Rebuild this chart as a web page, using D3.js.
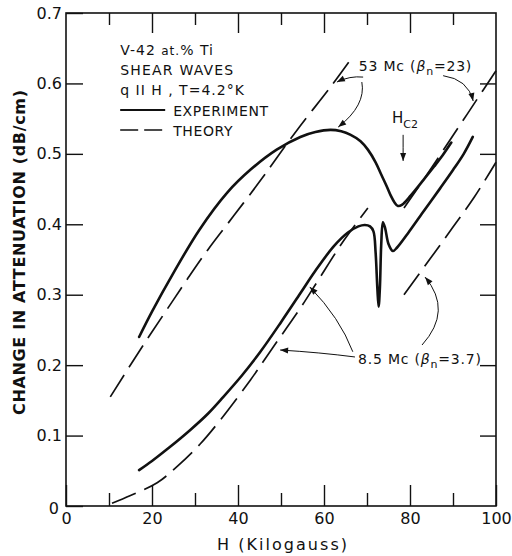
<!DOCTYPE html>
<html><head><meta charset="utf-8">
<script src="https://cdn.jsdelivr.net/npm/d3@7"></script>
<style>body{margin:0;background:#fff}svg{display:block}text{font-family:"DejaVu Sans",sans-serif;fill:#111}</style>
</head><body>
<script>
// ---- data (H in kilogauss, change in attenuation in dB/cm) ----
const exp53H = [17, 20, 25, 31, 37.5, 43, 49, 54.5, 58, 61.5, 64, 66.2, 68.5, 70.2, 72, 73.2, 74.5, 75.5, 76.4, 77.2, 78.2, 80.2, 83, 85.6, 87.6, 89.6];
const exp53V = [0.24, 0.276, 0.331, 0.392, 0.445, 0.478, 0.506, 0.524, 0.531, 0.534, 0.532, 0.527, 0.518, 0.506, 0.488, 0.472, 0.455, 0.441, 0.431, 0.426, 0.428, 0.441, 0.462, 0.482, 0.498, 0.516];

const exp85H = [17, 20, 24, 28.9, 33, 36.6, 41, 45.2, 50, 54.5, 58, 62.3, 65.5, 68, 69.5, 70.7, 71.5, 72, 72.4, 72.7, 73, 73.3, 73.7, 74.2, 75, 76, 77, 79.5, 83, 87, 90, 92.5, 94.6];
const exp85V = [0.051, 0.064, 0.083, 0.108, 0.131, 0.155, 0.186, 0.219, 0.261, 0.302, 0.334, 0.369, 0.388, 0.397, 0.399, 0.397, 0.39, 0.36, 0.31, 0.283, 0.31, 0.37, 0.403, 0.395, 0.372, 0.362, 0.367, 0.387, 0.417, 0.451, 0.477, 0.5, 0.524];

const th53LowH = [10.3, 17.5, 24.9, 28.2, 33, 39, 45.2, 49.2, 54.5, 61.4, 66.2];
const th53LowV = [0.155, 0.224, 0.292, 0.322, 0.364, 0.412, 0.462, 0.496, 0.54, 0.594, 0.634];

const th53HighH = [78.6, 84, 90, 95, 100];
const th53HighV = [0.423, 0.471, 0.526, 0.572, 0.618];

const th85LowH = [10.7, 15, 21.2, 26, 31.2, 36, 42.9, 48, 54.5, 58.7, 64.6, 70.2];
const th85LowV = [0.004, 0.015, 0.033, 0.057, 0.088, 0.123, 0.179, 0.224, 0.281, 0.321, 0.377, 0.423];

const th85HighH = [78.6, 84.8, 90, 95, 100];
const th85HighV = [0.30, 0.352, 0.396, 0.439, 0.488];

const xTicks = [0, 20, 40, 60, 80, 100];
const xMinorTicks = [10, 30, 50, 70, 90];
const yTicks = [0, 0.1, 0.2, 0.3, 0.4, 0.5, 0.6, 0.7];

const W = 512, H = 556;
const svg = d3.select("body").append("svg").attr("width", W).attr("height", H);

const x = d3.scaleLinear().domain([0, 100]).range([66, 496]);
const y = d3.scaleLinear().domain([0, 0.7]).range([506, 13]);

// frame
svg.append("rect").attr("x", x(0)).attr("y", y(0.7)).attr("width", x(100) - x(0)).attr("height", y(0) - y(0.7))
  .attr("fill", "none").attr("stroke", "#111").attr("stroke-width", 1.6);

// bottom axis
const gB = svg.append("g").attr("transform", `translate(0,${y(0)})`)
  .call(d3.axisBottom(x).tickValues(xTicks).tickSizeInner(-21).tickSizeOuter(0).tickPadding(6).tickFormat(d3.format("d")));
const gBm = svg.append("g").attr("transform", `translate(0,${y(0)})`)
  .call(d3.axisBottom(x).tickValues(xMinorTicks).tickSizeInner(-13).tickSizeOuter(0).tickFormat(""));
// top axis
const gT = svg.append("g").attr("transform", `translate(0,${y(0.7)})`)
  .call(d3.axisTop(x).tickValues(xTicks.slice(1, -1)).tickSizeInner(-20).tickSizeOuter(0).tickFormat(""));
const gTm = svg.append("g").attr("transform", `translate(0,${y(0.7)})`)
  .call(d3.axisTop(x).tickValues(xMinorTicks).tickSizeInner(-12).tickSizeOuter(0).tickFormat(""));
// left axis
const gL = svg.append("g").attr("transform", `translate(${x(0)},0)`)
  .call(d3.axisLeft(y).tickValues(yTicks).tickSizeInner(-17).tickSizeOuter(0).tickPadding(4)
    .tickFormat(d => d === 0 ? "0" : d.toFixed(1)));
// right axis
const gR = svg.append("g").attr("transform", `translate(${x(100)},0)`)
  .call(d3.axisRight(y).tickValues(yTicks.slice(1, -1)).tickSizeInner(-16).tickSizeOuter(0).tickFormat(""));

[gB, gBm, gT, gTm, gL, gR].forEach(g => {
  g.select(".domain").remove();
  g.selectAll("line").attr("stroke", "#111").attr("stroke-width", 1.4);
  g.selectAll("text").attr("font-size", 16).attr("fill", "#111").attr("font-family", "DejaVu Sans");
});
gB.selectAll("text").attr("dy", "0.75em");
gL.selectAll(".tick").filter(d => d === 0).select("text").attr("dy", "0.45em").attr("dx", -3);

// axis titles
svg.append("text").attr("x", x(50) - 64).attr("y", 550).attr("font-size", 16)
  .attr("textLength", 130).attr("lengthAdjust", "spacing").text("H (Kilogauss)");
svg.append("text").attr("transform", `translate(25,${(y(0.7) + y(0)) / 2 - 7}) rotate(-90)`)
  .attr("text-anchor", "middle").attr("font-size", 16).attr("font-weight", "bold")
  .attr("textLength", 325).attr("lengthAdjust", "spacing").text("CHANGE IN ATTENUATION (dB/cm)");

// curves
const line = d3.line().x(d => x(d[0])).y(d => y(d[1])).curve(d3.curveCatmullRom.alpha(0.5));
const zip = (a, b) => a.map((v, i) => [v, b[i]]);
const drawSolid = (h, v) => svg.append("path").datum(zip(h, v)).attr("d", line)
  .attr("fill", "none").attr("stroke", "#111").attr("stroke-width", 2.6).attr("stroke-linejoin", "round").attr("stroke-linecap", "round");
const drawDash = (h, v) => svg.append("path").datum(zip(h, v)).attr("d", line)
  .attr("fill", "none").attr("stroke", "#111").attr("stroke-width", 1.7).attr("stroke-dasharray", "26,9");

drawDash(th53LowH, th53LowV);
drawDash(th53HighH, th53HighV);
drawDash(th85LowH, th85LowV);
drawDash(th85HighH, th85HighV);
drawSolid(exp53H, exp53V);
drawSolid(exp85H, exp85V);

// legend block
const leg = svg.append("g").attr("font-size", 14);
const lx = x(12.6);
leg.append("text").attr("x", lx).attr("y", 55).attr("letter-spacing", 1)
  .html('V-42 <tspan font-size="12">at.</tspan>% Ti');
leg.append("text").attr("x", lx).attr("y", 75).attr("letter-spacing", 1.2).text("SHEAR WAVES");
leg.append("text").attr("x", lx).attr("y", 95).attr("letter-spacing", 1).text("q II H , T=4.2°K");
svg.append("line").attr("x1", lx).attr("x2", lx + 45).attr("y1", 110).attr("y2", 110).attr("stroke", "#111").attr("stroke-width", 1.8);
leg.append("text").attr("x", lx + 53).attr("y", 116).attr("letter-spacing", 0.6).text("EXPERIMENT");
svg.append("line").attr("x1", lx).attr("x2", lx + 43).attr("y1", 130).attr("y2", 130).attr("stroke", "#111").attr("stroke-width", 1.5).attr("stroke-dasharray", "18,6");
leg.append("text").attr("x", lx + 53).attr("y", 136).attr("letter-spacing", 0.6).text("THEORY");

// annotations (data coordinates)
function arrow(p0, c, p1) {
  const a = [x(p0[0]), y(p0[1])], b = [x(c[0]), y(c[1])], e = [x(p1[0]), y(p1[1])];
  svg.append("path").attr("d", `M${a}Q${b} ${e}`).attr("fill", "none").attr("stroke", "#111").attr("stroke-width", 1);
  const ang = Math.atan2(e[1] - b[1], e[0] - b[0]);
  const L = 8, w = 3;
  const bx = e[0] - L * Math.cos(ang), by = e[1] - L * Math.sin(ang);
  const pts = [e, [bx + w * Math.sin(ang), by - w * Math.cos(ang)], [bx - w * Math.sin(ang), by + w * Math.cos(ang)]];
  svg.append("path").attr("d", "M" + pts.join("L") + "Z").attr("fill", "#111");
}
svg.append("text").attr("x", x(68.1)).attr("y", y(0.618)).attr("font-size", 14).attr("letter-spacing", 0.8)
  .html('53 Mc (<tspan font-style="italic">β</tspan><tspan dy="4" font-size="11">n</tspan><tspan dy="-4">=23)</tspan>');
arrow([69.1, 0.609], [66.0, 0.611], [63.0, 0.602]);
arrow([68.8, 0.602], [69.8, 0.569], [63.3, 0.538]);
arrow([87.7, 0.611], [93.5, 0.606], [94.7, 0.575]);

svg.append("text").attr("x", x(75.8)).attr("y", y(0.544)).attr("font-size", 15)
  .html('H<tspan dy="5" font-size="11">C2</tspan>');
arrow([78.4, 0.527], [78.4, 0.51], [78.4, 0.49]);

svg.append("text").attr("x", x(67.9)).attr("y", y(0.2016)).attr("font-size", 14).attr("letter-spacing", 0.8)
  .html('8.5 Mc (<tspan font-style="italic">β</tspan><tspan dy="4" font-size="11">n</tspan><tspan dy="-4">=3.7)</tspan>');
arrow([67.2, 0.2116], [59.1, 0.218], [49.8, 0.2215]);
arrow([66.7, 0.219], [63.7, 0.267], [56.7, 0.311]);
arrow([82.8, 0.2286], [90.0, 0.2775], [83.5, 0.325]);
</script>
</body></html>
